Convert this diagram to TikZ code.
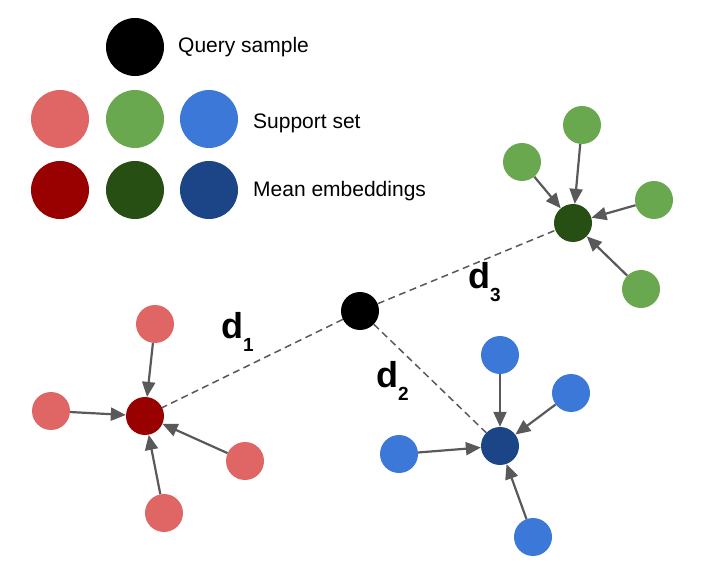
\documentclass[tikz,border=0pt]{standalone}
\usepackage{fontspec}
\setmainfont{Liberation Sans}
\usetikzlibrary{arrows.meta}
\definecolor{lightred}{HTML}{E06666}
\definecolor{lightgreen}{HTML}{6AA84F}
\definecolor{lightblue}{HTML}{3C78D8}
\definecolor{darkred}{HTML}{990000}
\definecolor{darkgreen}{HTML}{274E13}
\definecolor{darkblue}{HTML}{1C4587}
\definecolor{edgegray}{HTML}{595959}
\tikzset{big/.style={circle,minimum size=58pt,inner sep=0pt},
         pt/.style={circle,minimum size=38pt,inner sep=0pt},
         legend/.style={anchor=base west,inner sep=0pt,font=\fontsize{21}{22}\selectfont},
         dist/.style={anchor=base west,inner sep=0pt},
         embed/.style={draw=edgegray,line width=2.2pt,-{Triangle[length=15pt,width=13pt]}},
         gap/.style={draw=edgegray,line width=1.5pt,dash pattern=on 7pt off 4.5pt},
        }
\newcommand{\dname}[1]{{\fontsize{36}{36}\selectfont\bfseries d}\raisebox{-13pt}{\fontsize{19}{19}\selectfont\bfseries #1}}

\begin{document}
\begin{tikzpicture}[x=1pt,y=-1pt]
        \useasboundingbox(0,0)rectangle(710,585);
        % legend
        \node[big,fill=black](lq)at(135,47){};
        \node[big,fill=lightred](lsr)at(60,119){};
        \node[big,fill=lightgreen](lsg)at(135,119){};
        \node[big,fill=lightblue](lsb)at(209,119){};
        \node[big,fill=darkred](lmr)at(60,190){};
        \node[big,fill=darkgreen](lmg)at(135,190){};
        \node[big,fill=darkblue](lmb)at(209,190){};
        \node[legend](tq)at(178,53){Query sample};
        \node[legend](ts)at(253,129){Support set};
        \node[legend](tm)at(253,197){Mean embeddings};

        % query and means
        \node[pt,fill=black](q)at(360,311){};
        \node[pt,fill=darkred](mr)at(145,416){};
        \node[pt,fill=darkblue](mb)at(500,446){};
        \node[pt,fill=darkgreen](mg)at(573,223){};

        % support points
        \node[pt,fill=lightred](r1)at(155,324){};
        \node[pt,fill=lightred](r2)at(51,411){};
        \node[pt,fill=lightred](r3)at(245,461){};
        \node[pt,fill=lightred](r4)at(164,513){};
        \node[pt,fill=lightblue](b1)at(500,355){};
        \node[pt,fill=lightblue](b2)at(571,393){};
        \node[pt,fill=lightblue](b3)at(399,454){};
        \node[pt,fill=lightblue](b4)at(533,537){};
        \node[pt,fill=lightgreen](g1)at(522,162){};
        \node[pt,fill=lightgreen](g2)at(582,125){};
        \node[pt,fill=lightgreen](g3)at(654,200){};
        \node[pt,fill=lightgreen](g4)at(641,289){};

        % distances
        \draw[gap](q)--(mr);
        \draw[gap](q)--(mb);
        \draw[gap](q)--(mg);
        \node[dist](d1)at(221,339){\dname{1}};
        \node[dist](d2)at(376,388){\dname{2}};
        \node[dist](d3)at(468,289){\dname{3}};

        \foreach \s in {r1,r2,r3,r4}{\draw[embed](\s)--(mr);}
        \foreach \s in {b1,b2,b3,b4}{\draw[embed](\s)--(mb);}
        \foreach \s in {g1,g2,g3,g4}{\draw[embed](\s)--(mg);}
    \end{tikzpicture}
\end{document}
